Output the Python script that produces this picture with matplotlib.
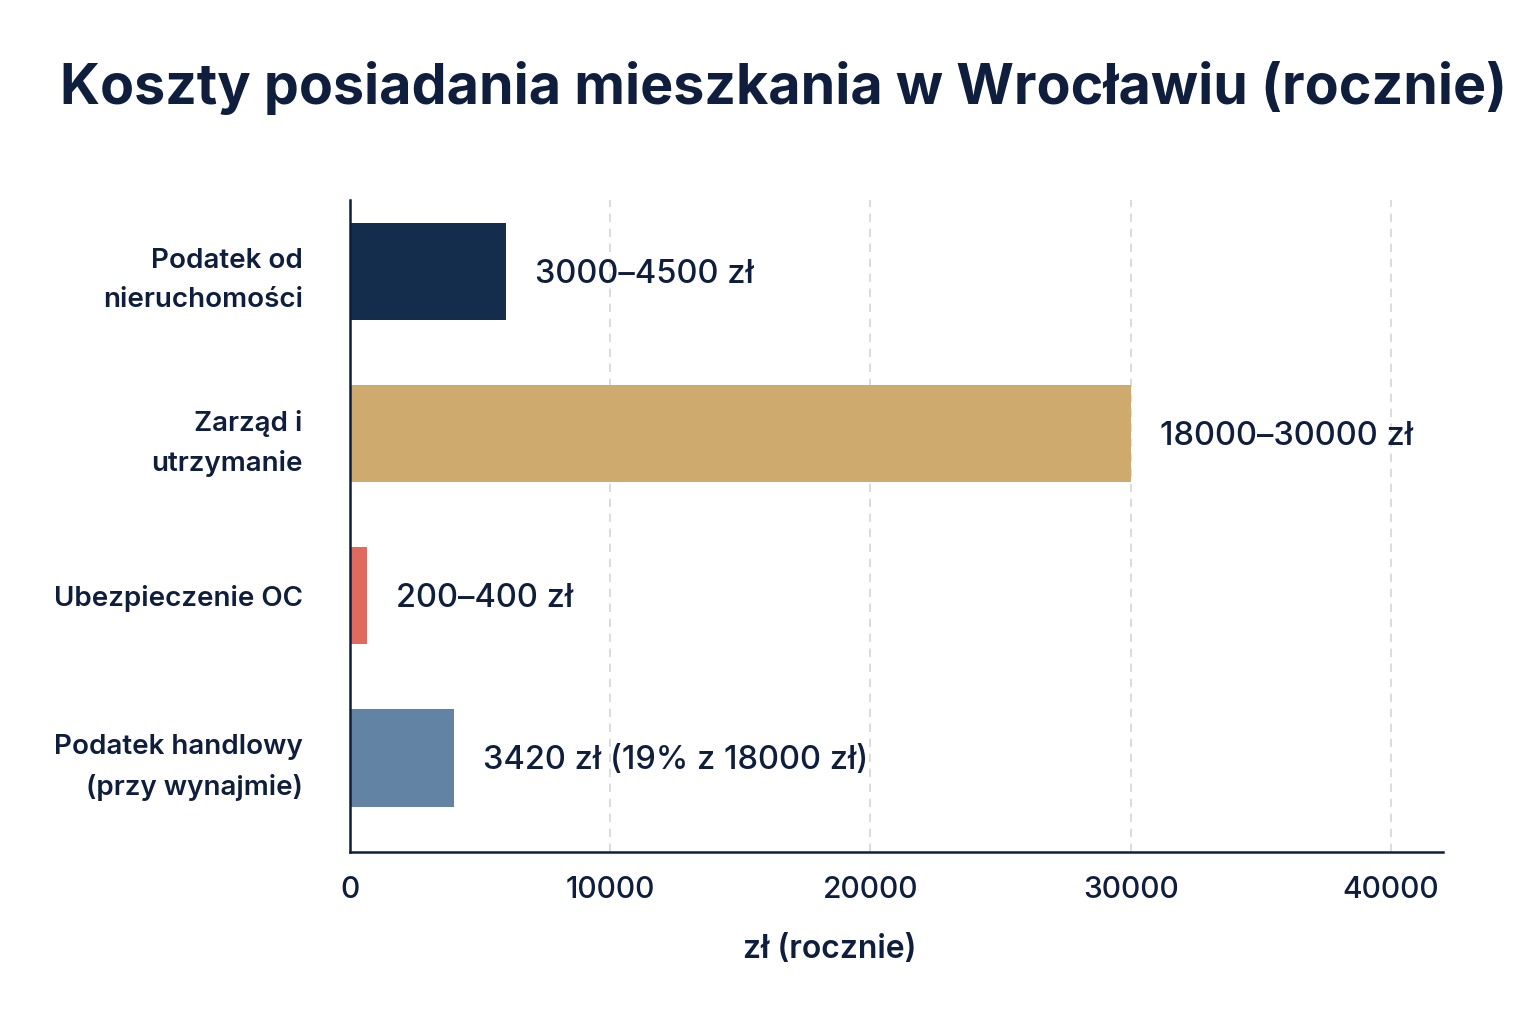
import matplotlib
matplotlib.use("Agg")
import matplotlib.pyplot as plt

categories = ["Podatek od\nnieruchomości", "Zarząd i\nutrzymanie", "Ubezpieczenie OC", "Podatek handlowy\n(przy wynajmie)"]
values = [6000, 30000, 650, 4000]
value_labels = ["3000–4500 zł", "18000–30000 zł", "200–400 zł", "3420 zł (19% z 18000 zł)"]
colors = ["#142d4c", "#cfaa6f", "#e06a5e", "#6283a3"]
xticks = [0, 10000, 20000, 30000, 40000]

TEXT = "#0f1e3c"
plt.rcParams['font.family'] = ['Inter', 'DejaVu Sans']

fig = plt.figure(figsize=(15.36, 10.24), dpi=100)
ax = fig.add_axes([350/1536, 1-852/1024, 1093/1536, 652/1024])

y = list(range(len(categories)))
ax.barh(y, values, height=0.6, color=colors)
ax.set_ylim(3.58, -0.44)
ax.set_xlim(0, 42000)

for yi, v, lab in zip(y, values, value_labels):
    ax.annotate(lab, (v, yi), xytext=(21, -2), textcoords="offset points",
                ha="left", va="center", fontsize=23.5, color=TEXT, fontweight="medium")

ax.set_yticks(y)
ax.set_yticklabels(categories, fontsize=20, color=TEXT, fontweight="semibold", ha="right")
for t in ax.get_yticklabels():
    t.set_multialignment("right")
    t.set_linespacing(1.65)
ax.set_xticks(xticks)
ax.set_xticklabels([str(t) for t in xticks], fontsize=21.5, color=TEXT, fontweight="medium")
ax.tick_params(axis="both", length=0)
ax.tick_params(axis="y", pad=34)
ax.tick_params(axis="x", pad=17)

for xt in xticks[1:]:
    ax.axvline(xt, color="#d5d5d5", linestyle=(0, (5, 4)), linewidth=1.2, zorder=0)

for s in ["top", "right"]:
    ax.spines[s].set_visible(False)
for s in ["left", "bottom"]:
    ax.spines[s].set_color(TEXT)
    ax.spines[s].set_linewidth(1.8)

ax.set_xlabel("zł (rocznie)", fontsize=23, color=TEXT, fontweight="semibold")
ax.xaxis.set_label_coords((830-350)/1093, -0.125)

fig.text(784/1536, 1-88/1024, "Koszty posiadania mieszkania w Wrocławiu (rocznie)",
         ha="center", va="center", fontsize=40, fontweight="bold", color=TEXT)

fig.savefig("out.png", dpi=100, facecolor="white")
